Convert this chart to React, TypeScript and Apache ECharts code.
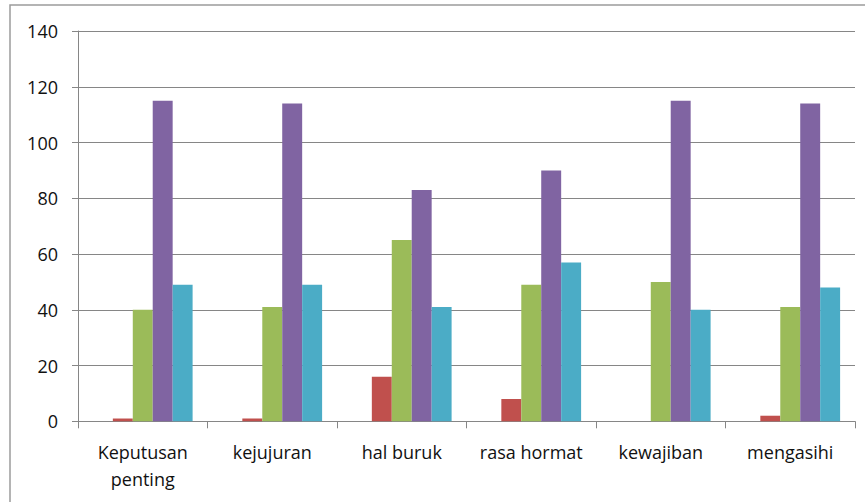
import React, { useEffect, useRef } from "react";
import * as echarts from "echarts";

const categories = ["Keputusan penting", "kejujuran", "hal buruk", "rasa hormat", "kewajiban", "mengasihi"];
const series1 = [0, 0, 0, 0, 0, 0];
const series2 = [1, 1, 16, 8, 0, 2];
const series3 = [40, 41, 65, 49, 50, 41];
const series4 = [115, 114, 83, 90, 115, 114];
const series5 = [49, 49, 41, 57, 40, 48];
const seriesNames = ["Seri 1", "Seri 2", "Seri 3", "Seri 4", "Seri 5"];
const seriesColors = ["#4F81BD", "#C0504D", "#9BBB59", "#8064A2", "#4BACC6"];

export default function App() {
  const ref = useRef<HTMLDivElement>(null);
  useEffect(() => {
    if (!ref.current) return;
    const chart = echarts.init(ref.current, undefined, { renderer: "svg" });
    const all = [series1, series2, series3, series4, series5];
    const axisGray = "#868686";
    chart.setOption({
      animation: false,
      backgroundColor: "#ffffff",
      textStyle: { fontFamily: "Open Sans" },
      graphic: [
        {
          type: "rect",
          shape: { x: 10, y: 5, width: 900, height: 600 },
          style: { fill: "none", stroke: "#9c9c9c", lineWidth: 1.5 },
          silent: true,
          z: -1,
        },
      ],
      grid: { left: 78, right: 10, top: 31, bottom: 80.7, containLabel: false },
      xAxis: {
        type: "category",
        data: categories,
        axisLine: { show: true, lineStyle: { color: axisGray, width: 1 } },
        axisTick: { show: true, length: 7, lineStyle: { color: axisGray } },
        axisLabel: {
          fontSize: 18,
          color: "#111111",
          margin: 17,
          lineHeight: 27,
          fontFamily: "Open Sans",
          interval: 0,
          formatter: (v: string) => (v.length > 12 ? v.replace(" ", "\n") : v),
        },
      },
      yAxis: {
        type: "value",
        min: 0,
        max: 140,
        interval: 20,
        axisLine: { show: true, lineStyle: { color: axisGray, width: 1 } },
        axisTick: { show: true, length: 6, lineStyle: { color: axisGray } },
        splitLine: { show: true, lineStyle: { color: axisGray, width: 1 } },
        axisLabel: { fontSize: 18, color: "#111111", margin: 20, fontFamily: "Open Sans" },
      },
      series: all.map((d, i) => ({
        name: seriesNames[i],
        type: "bar",
        data: d,
        barGap: "0%",
        barCategoryGap: "23%",
        itemStyle: { color: seriesColors[i] },
      })),
    });
    return () => chart.dispose();
  }, []);
  return (
    <div
      ref={ref}
      style={{ position: "fixed", left: 0, top: 0, width: 865, height: 502 }}
    />
  );
}
